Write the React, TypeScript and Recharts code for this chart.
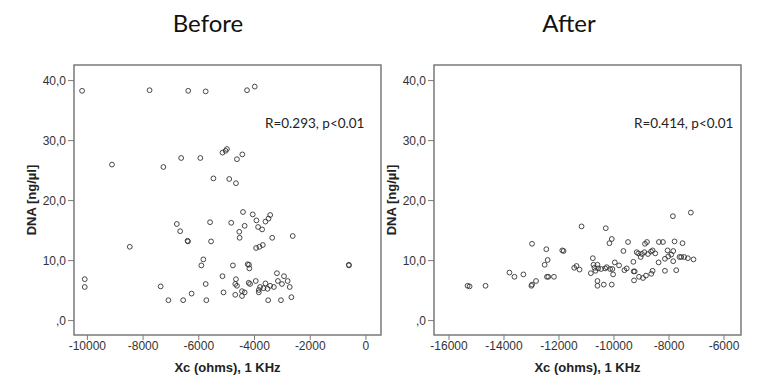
import { ScatterChart, Scatter, XAxis, YAxis, ReferenceArea, Label } from 'recharts'

// Before: Xc (ohms) and DNA (ng/µl), read point by point
const beforeXc = [
	-10190, -7767, -6380, -5753, -4269, -3992,
	-9117, -7272, -6633, -5946, -5150, -4990, -5040, -4438, -4631, -5475, -4908, -4667,
	-8478, -6790, -6669, -6404, -6390, -5596, -5560, -4836, -4547, -4535, -4414, -4354,
	-4064, -3932, -3872, -3727, -3607, -3498, -3438, -3365, -3944, -3823, -3703, -2629,
	-5837, -5909, -4776, -4245, -4200, -4185, -615, -610,
	-10094, -10094, -7369, -7091, -6561, -6259, -5753, -5729, -5150, -5113, -4667, -4691,
	-4631, -4691, -4450, -4354, -4450, -4209, -4161, -3956, -3847, -3847, -3799, -3678,
	-3607, -3534, -3438, -3305, -3510, -3196, -3160, -3015, -2942, -2810, -2737, -3051, -2677,
]
const beforeDna = [
	38.3, 38.4, 38.3, 38.2, 38.4, 39.0,
	26.0, 25.6, 27.1, 27.1, 28.0, 28.6, 28.3, 27.7, 26.9, 23.7, 23.6, 22.9,
	12.3, 16.1, 14.9, 13.3, 13.2, 16.4, 13.2, 16.3, 14.8, 13.8, 18.1, 15.8,
	17.7, 16.7, 15.6, 15.2, 16.5, 17.0, 17.6, 13.8, 12.1, 12.3, 12.6, 14.1,
	10.2, 9.2, 9.2, 9.4, 9.3, 8.7, 9.3, 9.2,
	6.9, 5.6, 5.7, 3.4, 3.4, 4.5, 6.1, 3.4, 7.4, 4.7, 6.9, 6.1,
	5.8, 4.3, 4.9, 4.7, 4.1, 6.3, 6.1, 6.6, 5.1, 4.7, 5.6, 5.4,
	6.2, 5.3, 5.8, 5.6, 3.4, 7.9, 6.6, 6.1, 7.4, 6.6, 5.6, 3.4, 3.9,
]

// After
const afterXc = [
	-15324, -15251, -14671, -13802, -13620, -13294, -12980, -13004, -12980, -12835,
	-12521, -12461, -12413, -12437, -12389, -12183, -11881, -11833, -11446, -11362,
	-11253, -11180, -10770, -10746, -10710, -10673, -10842, -10601, -10577, -10601,
	-10601, -10468, -10371, -10299, -10323, -10263, -10166, -10081, -10141, -10057,
	-10033, -10081, -9972, -9815, -9658, -9622, -9537, -9489, -9296, -9284,
	-9272, -9248, -9175, -9115, -9091, -9030, -8982, -8946, -8898, -8873,
	-8837, -8801, -8765, -8656, -8644, -8596, -8596, -8499, -8378, -8366,
	-8221, -8148, -8148, -8052, -8027, -7918, -7858, -7846, -7846, -7798,
	-7737, -7617, -7556, -7508, -7448, -7315, -7206, -7109,
]
const afterDna = [
	5.8, 5.7, 5.8, 8.0, 7.3, 7.7, 12.8, 5.8, 6.0, 6.6,
	9.3, 11.9, 10.1, 7.3, 7.3, 7.3, 11.7, 11.6, 8.8, 9.1,
	8.5, 15.7, 10.4, 9.3, 8.8, 8.3, 7.9, 9.3, 8.7, 6.6,
	5.8, 8.6, 6.0, 15.4, 8.7, 8.9, 12.9, 13.6, 8.6, 8.6,
	7.7, 6.0, 9.7, 9.2, 11.6, 8.4, 8.7, 13.1, 9.8, 8.2,
	6.7, 8.2, 11.4, 11.2, 7.3, 10.6, 11.1, 7.1, 11.4, 12.8,
	7.5, 13.1, 11.1, 11.5, 7.8, 11.7, 8.3, 11.2, 9.7, 13.1,
	13.1, 8.3, 10.3, 11.7, 10.7, 11.0, 17.4, 9.9, 11.6, 13.2,
	8.4, 10.6, 10.6, 12.9, 10.6, 10.4, 18.0, 10.2,
]

const dnaTicks = [0, 10, 20, 30, 40]
const beforeTicks = [-10000, -8000, -6000, -4000, -2000, 0]
const afterTicks = [-16000, -14000, -12000, -10000, -8000, -6000]

const beforeData = beforeXc.map((x, i) => ({ xc: x, dna: beforeDna[i] }))
const afterData = afterXc.map((x, i) => ({ xc: x, dna: afterDna[i] }))

const yDomain: [number, number] = [-2.4, 42.6]
const boxColor = '#7a7a7a'
const tickFont = { fontFamily: 'Liberation Sans', fontSize: 12, fill: '#333' }
const axisTitle = { fontFamily: 'Liberation Sans', fontSize: 13, fontWeight: 'bold' as const, fill: '#222' }

const OpenCircle = (props: any) => (
	<circle cx={props.cx} cy={props.cy} r={2.4} fill="none" stroke="#333" strokeWidth={0.9} />
)

function Panel({
	data,
	xDomain,
	xTicks,
	margin,
}: {
	data: { xc: number; dna: number }[]
	xDomain: [number, number]
	xTicks: number[]
	margin: { top: number; right: number; bottom: number; left: number }
}) {
	return (
		<ScatterChart width={384} height={390} margin={margin}>
			<XAxis
				type="number"
				dataKey="xc"
				domain={xDomain}
				ticks={xTicks}
				allowDataOverflow
				axisLine={false}
				tickSize={5}
				tickMargin={1}
				tickLine={{ stroke: boxColor }}
				tick={tickFont}
				height={40}
			>
				<Label value="Xc (ohms), 1 KHz" position="insideBottom" offset={3} style={axisTitle} />
			</XAxis>
			<YAxis
				type="number"
				dataKey="dna"
				domain={yDomain}
				ticks={dnaTicks}
				allowDataOverflow
				axisLine={false}
				tickSize={6}
				tickMargin={2}
				tickLine={{ stroke: boxColor }}
				tick={tickFont}
				width={44}
				tickFormatter={(v: number) => (v === 0 ? ',0' : `${v},0`)}
			>
				<Label
					value="DNA [ng/µl]"
					angle={-90}
					position="insideLeft"
					offset={1}
					style={{ ...axisTitle, textAnchor: 'middle' }}
				/>
			</YAxis>
			<ReferenceArea
				x1={xDomain[0]}
				x2={xDomain[1]}
				y1={yDomain[0]}
				y2={yDomain[1]}
				fill="none"
				stroke={boxColor}
				strokeWidth={1.5}
				ifOverflow="visible"
			/>
			<Scatter data={data} shape={OpenCircle} isAnimationActive={false} />
		</ScatterChart>
	)
}

export default function App() {
	const titleStyle = { fontFamily: 'Lato', fontSize: 24, fill: '#111' }
	const noteStyle = { fontFamily: 'Lato', fontSize: 13.5, fill: '#222' }
	return (
		<div style={{ position: 'absolute', left: 0, top: 0, width: 768, height: 390, background: '#fff' }}>
			<div style={{ position: 'absolute', left: 0, top: 0 }}>
				<Panel
					data={beforeData}
					xDomain={[-10480, 540]}
					xTicks={beforeTicks}
					margin={{ top: 65, right: 3, bottom: 15, left: 30 }}
				/>
			</div>
			<div style={{ position: 'absolute', left: 384, top: 0 }}>
				<Panel
					data={afterData}
					xDomain={[-16545, -5382]}
					xTicks={afterTicks}
					margin={{ top: 65, right: 27, bottom: 15, left: 6 }}
				/>
			</div>
			<svg
				width={768}
				height={390}
				style={{ position: 'absolute', left: 0, top: 0, pointerEvents: 'none' }}
			>
				<text x={208} y={31.5} textAnchor="middle" style={titleStyle}>
					Before
				</text>
				<text x={569} y={31.5} textAnchor="middle" style={titleStyle}>
					After
				</text>
				<text x={265} y={128} style={noteStyle}>
					R=0.293, p&lt;0.01
				</text>
				<text x={634} y={128} style={noteStyle}>
					R=0.414, p&lt;0.01
				</text>
			</svg>
		</div>
	)
}
